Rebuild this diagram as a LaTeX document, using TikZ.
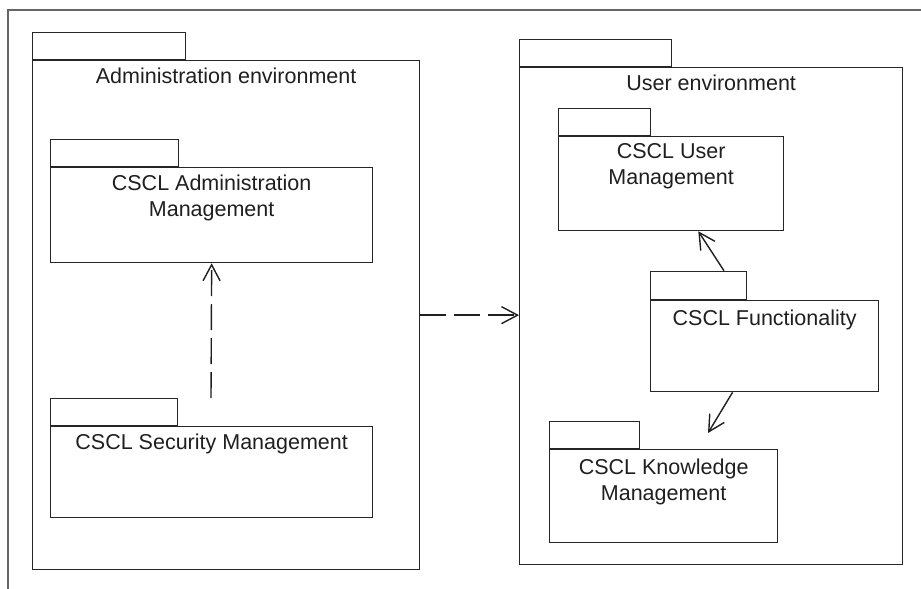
\documentclass[tikz,border=0pt]{standalone}
\usepackage{fontspec}
\setmainfont{Liberation Sans}
\usepackage{tikz}
\usetikzlibrary{arrows.meta}
\usetikzlibrary{positioning}
\usetikzlibrary{calc}

\tikzset{
  pkg/.style={draw=black!85, line width=1.3pt, inner sep=0pt, anchor=north west},
  pkgtab/.style={draw=black!85, line width=1.3pt, inner sep=0pt, minimum height=27pt},
  pkgname/.style={align=center, font=\fontsize{21.5}{26}\selectfont, text=black!88, inner sep=0pt},
  dep/.style={draw=black!88, line width=1.4pt, -{Straight Barb[length=16pt,width=17pt]}},
  dashdep/.style={dep, dash pattern=on 26pt off 8pt},
}

\begin{document}
\begin{tikzpicture}[x=1pt,y=-1pt]
\useasboundingbox (0,0) rectangle (921,589);
\draw[black!60, line width=1.3pt] (921,10) -- (8,10) -- (8,589);

% administration environment
\node[pkg, minimum width=387pt, minimum height=509pt] (adminenv) at (32,60) {};
\node[pkgtab, minimum width=153pt, above right=0pt and 0pt of adminenv.north west] (adminenvtab) {};
\node[pkgname, below=8pt of adminenv.north] (adminenvname) {Administration environment};

\node[pkg, minimum width=322pt, minimum height=95pt] (admmgmt) at (50,167) {};
\node[pkgtab, minimum width=128pt, above right=0pt and 0pt of admmgmt.north west] (admmgmttab) {};
\node[pkgname, below=8pt of admmgmt.north] (admmgmtname) {CSCL Administration\\Management};

\node[pkg, minimum width=322pt, minimum height=91pt] (secmgmt) at (50,426) {};
\node[pkgtab, minimum width=127pt, above right=0pt and 0pt of secmgmt.north west] (secmgmttab) {};
\node[pkgname, below=8pt of secmgmt.north] (secmgmtname) {CSCL Security Management};

% user environment
\node[pkg, minimum width=383pt, minimum height=497pt] (userenv) at (519,67) {};
\node[pkgtab, minimum width=152pt, above right=0pt and 0pt of userenv.north west] (userenvtab) {};
\node[pkgname, below=8pt of userenv.north] (userenvname) {User environment};

\node[pkg, minimum width=225pt, minimum height=94pt] (usrmgmt) at (558,136) {};
\node[pkgtab, minimum width=92pt, above right=0pt and 0pt of usrmgmt.north west] (usrmgmttab) {};
\node[pkgname, below=7pt of usrmgmt.north] (usrmgmtname) {CSCL User\\Management};

\node[pkg, minimum width=228pt, minimum height=91pt] (funct) at (650,300) {};
\node[pkgtab, minimum width=96pt, minimum height=28pt, above right=0pt and 0pt of funct.north west] (functtab) {};
\node[pkgname, below=10pt of funct.north] (functname) {CSCL Functionality};

\node[pkg, minimum width=228pt, minimum height=93pt] (knowmgmt) at (549,449) {};
\node[pkgtab, minimum width=90pt, above right=0pt and 0pt of knowmgmt.north west] (knowmgmttab) {};
\node[pkgname, below=10pt of knowmgmt.north] (knowmgmtname) {CSCL Knowledge\\Management};

% dependencies
\coordinate (secstart) at (211,398);
\draw[dashdep] (secstart) -- (admmgmt.south);
\draw[dashdep] (adminenv.east) -- (adminenv.east -| userenv.west);
\draw[dep] ($(functtab.north west)!0.76!(functtab.north east)$) -- ($(usrmgmt.south west)!0.62!(usrmgmt.south east)$);
\coordinate (knowtip) at (708,433);
\draw[dep] ($(funct.south west)!0.36!(funct.south east)$) -- (knowtip);
\end{tikzpicture}
\end{document}
